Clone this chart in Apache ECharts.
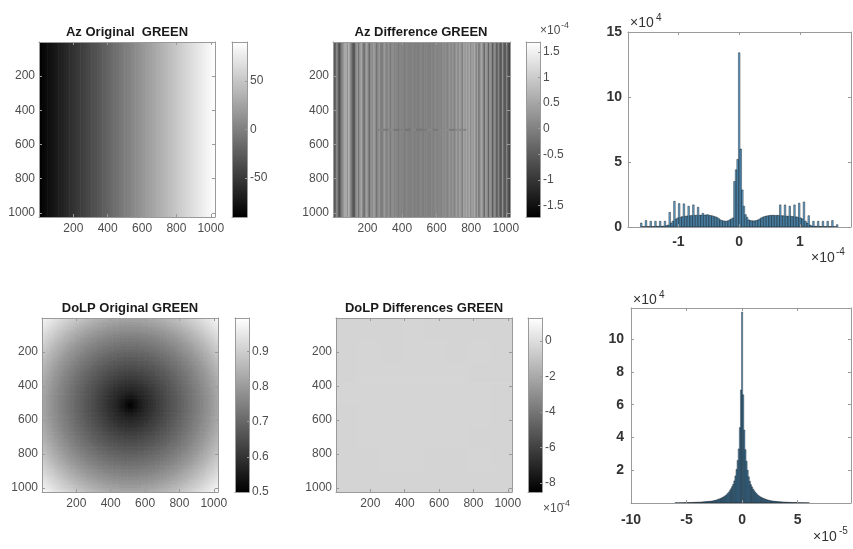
<!DOCTYPE html>
<html>
<head>
<meta charset="utf-8">
<script src="https://cdn.jsdelivr.net/npm/echarts@6/dist/echarts.min.js"></script>
<style>
  html, body { margin: 0; padding: 0; background: #fff; }
  #chart { width: 853px; height: 549px; }
</style>
</head>
<body>
<div id="chart"></div>
<script>
// ---- data ----
const imgRange = [0.5, 1024.5];
const imgTicks = [200, 400, 600, 800, 1000];

// Az Original: 64 column bands of 16 px, degrees
const azOrigColumns = [
  -88.6, -85.8, -83.0, -80.2, -77.3, -74.5, -71.7, -68.9,
  -66.1, -63.3, -60.5, -57.7, -54.8, -52.0, -49.2, -46.4,
  -43.6, -40.8, -38.0, -35.2, -32.3, -29.5, -26.7, -23.9,
  -21.1, -18.3, -15.5, -12.7, -9.8, -7.0, -4.2, -1.4,
  1.4, 4.2, 7.0, 9.8, 12.7, 15.5, 18.3, 21.1,
  23.9, 26.7, 29.5, 32.3, 35.2, 38.0, 40.8, 43.6,
  46.4, 49.2, 52.0, 54.8, 57.7, 60.5, 63.3, 66.1,
  68.9, 71.7, 74.5, 77.3, 80.2, 83.0, 85.8, 88.6
];
const azLimits = [-90, 90];
const azCbarTicks = [-50, 0, 50];

// Az Difference: 128 column bands of 8 px (x1e-4)
const azDiffColumns = [
  -0.6, -0.5, 0.1, -0.2, -0.7, -0.3, 0.0, 0.3,
  0.5, 0.6, 0.2, 0.7, 0.1, -0.1, -0.6, -0.5,
  0.0, 0.4, -0.2, 0.3, 0.5, 0.1, -0.3, 0.2,
  0.4, 0.0, -0.3, 0.3, 0.1, 0.4, 0.2, -0.2,
  0.1, 0.3, 0.0, -0.1, 0.2, 0.3, 0.0, 0.1,
  0.2, -0.1, 0.1, 0.2, 0.0, 0.1, 0.05, -0.05,
  0.1, 0.0, 0.05, -0.05, 0.0, 0.05, 0.0, -0.05,
  0.0, 0.05, -0.05, 0.0, 0.0, -0.05, 0.0, 0.05,
  0.0, -0.05, 0.0, 0.05, 0.0, 0.0, -0.05, 0.05,
  0.0, 0.05, 0.1, 0.0, 0.05, 0.1, 0.0, 0.15,
  0.1, 0.2, 0.0, 0.15, 0.25, 0.1, 0.3, 0.0,
  0.2, 0.35, 0.1, 0.4, 0.25, 0.0, 0.45, 0.3,
  0.5, 0.2, 0.6, 0.1, 0.45, 0.3, 0.55, 0.0,
  0.4, -0.2, 0.3, 0.5, 0.1, -0.3, 0.35, 0.2,
  -0.4, 0.3, 0.1, -0.5, 0.2, 0.0, -0.6, 0.1,
  -0.3, -0.7, 0.2, -0.4, -0.6, 0.0, -0.5, -0.8
];
// faint dotted row near y = 512, columns 256..768 in 32 px pieces (x1e-4)
const azDiffRowPieces = [0.05, -0.1, 0.1, -0.15, 0.0, -0.2, 0.05, -0.15, -0.1, 0.1, -0.1, 0.1, 0.15, -0.1, 0.1, 0.05];
const azDiffLimits = [-1.72, 1.69];
const azDiffCbarTicks = [-1.5, -1, -0.5, 0, 0.5, 1, 1.5];

// DoLP Original: value against distance from the centre, every 16 px
const dolpProfile = [
  0.500, 0.518, 0.532, 0.545, 0.558, 0.570, 0.580, 0.589,
  0.598, 0.607, 0.616, 0.625, 0.634, 0.643, 0.652, 0.661,
  0.669, 0.677, 0.686, 0.695, 0.704, 0.713, 0.722, 0.731,
  0.740, 0.749, 0.759, 0.769, 0.779, 0.789, 0.800, 0.812,
  0.824, 0.836, 0.848, 0.860, 0.872, 0.884, 0.896, 0.908,
  0.920, 0.932, 0.944, 0.956, 0.968, 0.982, 0.992, 0.995,
  0.995
];
const dolpLimits = [0.5, 0.995];
const dolpCbarTicks = [0.5, 0.6, 0.7, 0.8, 0.9];

// DoLP Differences: 8x8 blocks of 128 px (x1e-4)
const dolpDiffBlocks = [
  [-0.36, -0.34, -0.35, -0.33, -0.34, -0.35, -0.34, -0.36],
  [-0.34, -0.33, -0.34, -0.32, -0.33, -0.34, -0.33, -0.35],
  [-0.35, -0.33, -0.32, -0.31, -0.32, -0.33, -0.34, -0.34],
  [-0.33, -0.32, -0.31, -0.30, -0.31, -0.32, -0.33, -0.34],
  [-0.34, -0.32, -0.31, -0.31, -0.30, -0.32, -0.33, -0.35],
  [-0.35, -0.33, -0.32, -0.32, -0.32, -0.33, -0.34, -0.34],
  [-0.34, -0.34, -0.33, -0.33, -0.34, -0.34, -0.33, -0.35],
  [-0.36, -0.35, -0.34, -0.34, -0.35, -0.35, -0.35, -0.36]
];
const dolpDiffLimits = [-8.5, 1.3];
const dolpDiffCbarTicks = [-8, -6, -4, -2, 0];

// histogram of Az difference: x in 1e-4, counts in 1e4
const azHistEdge0 = -1.625;
const azHistBinWidth = 0.026;
const azHistCounts = [
  0.31, 0.03, 0.03, 0.50, 0.04, 0.04, 0.44, 0.04, 0.04, 0.44,
  0.05, 0.05, 0.44, 0.06, 0.06, 0.44, 0.10, 0.15, 1.13, 0.30,
  0.45, 1.98, 0.60, 0.70, 1.80, 0.75, 0.80, 1.78, 0.82, 0.85,
  1.60, 0.87, 0.88, 1.70, 0.90, 0.90, 1.52, 0.90, 0.92, 1.05,
  0.92, 0.93, 0.95, 0.90, 0.88, 0.86, 0.82, 0.78, 0.74, 0.65,
  0.56, 0.50, 0.47, 0.45, 0.45, 0.48, 0.55, 0.62, 0.70, 3.50,
  4.40, 5.20, 13.40, 6.00, 2.85, 1.60, 0.95, 0.75, 0.55, 0.50,
  0.48, 0.47, 0.48, 0.50, 0.55, 0.62, 0.70, 0.76, 0.80, 0.84,
  0.86, 0.88, 0.90, 0.90, 0.90, 0.88, 0.90, 0.88, 1.70, 0.87,
  0.86, 1.70, 0.84, 0.83, 1.60, 0.82, 0.80, 1.70, 0.78, 0.75,
  1.83, 0.70, 0.62, 1.93, 0.45, 0.30, 0.87, 0.15, 0.08, 0.44,
  0.06, 0.05, 0.44, 0.05, 0.04, 0.44, 0.04, 0.04, 0.44, 0.03,
  0.03, 0.50, 0.03, 0.02, 0.18
];
const azHistRange = [-1.83, 1.84];
const azHistXTicks = [-1, 0, 1];
const azHistYTicks = [0, 5, 10, 15];

// histogram of DoLP difference: x in 1e-5, counts in 1e4
const dolpHistEdge0 = -6.05;
const dolpHistBinWidth = 0.1;
const dolpHistCounts = [
  0.010, 0.011, 0.012, 0.013, 0.015, 0.016, 0.018, 0.020, 0.021, 0.023,
  0.025, 0.026, 0.028, 0.030, 0.032, 0.035, 0.037, 0.040, 0.043, 0.047,
  0.050, 0.052, 0.055, 0.060, 0.063, 0.070, 0.075, 0.080, 0.085, 0.093,
  0.100, 0.105, 0.110, 0.120, 0.130, 0.150, 0.165, 0.180, 0.210, 0.235,
  0.26, 0.29, 0.32, 0.36, 0.40, 0.45, 0.50, 0.58, 0.66, 0.76,
  0.87, 1.00, 1.15, 1.35, 1.65, 2.05, 2.60, 3.30, 4.60, 6.90,
  11.65,
  6.60, 4.45, 3.25, 2.55, 2.00, 1.60, 1.32, 1.12, 0.98, 0.85,
  0.74, 0.65, 0.57, 0.50, 0.44, 0.39, 0.35, 0.32, 0.29, 0.26,
  0.230, 0.210, 0.185, 0.170, 0.150, 0.135, 0.125, 0.115, 0.105, 0.100,
  0.092, 0.085, 0.080, 0.075, 0.070, 0.064, 0.060, 0.056, 0.053, 0.050,
  0.046, 0.043, 0.040, 0.037, 0.035, 0.032, 0.030, 0.028, 0.026, 0.024,
  0.022, 0.020, 0.019, 0.017, 0.016, 0.014, 0.013, 0.012, 0.011, 0.010
];
const dolpHistRange = [-10, 9.8];
const dolpHistXTicks = [-10, -5, 0, 5];
const dolpHistYTicks = [2, 4, 6, 8, 10];

// ---- look ----
const FONT = '"Liberation Sans", Arial, Helvetica, sans-serif';
const FRAME = '#9a9a9a';
const imgLabel = {color: '#4d4d4d', fontSize: 12, fontFamily: FONT};
const histLabel = {color: '#333', fontSize: 14, fontWeight: 'bold', fontFamily: FONT};

const grids = [
  {left: 39, top: 42, width: 176, height: 175},   // Az original
  {left: 232, top: 42, width: 15, height: 175},   // its colorbar
  {left: 333, top: 42, width: 177, height: 175},  // Az difference
  {left: 526, top: 42, width: 14, height: 175},   // its colorbar
  {left: 628, top: 32, width: 223, height: 195},  // Az histogram
  {left: 42, top: 318, width: 176, height: 174},  // DoLP original
  {left: 235, top: 318, width: 14, height: 174},  // its colorbar
  {left: 336, top: 318, width: 176, height: 174}, // DoLP differences
  {left: 528, top: 318, width: 14, height: 174},  // its colorbar
  {left: 631, top: 308, width: 220, height: 195}  // DoLP histogram
].map(g => Object.assign({outerBoundsMode: 'none'}, g));

const xAxis = [];
const yAxis = [];

// each grid gets a boxed frame: bottom/top x axes, left/right y axes
function frame(g, x, y) {
  const make = (pos, a, withLabel, withTick) => ({
    gridIndex: g, type: 'value', position: pos, min: a.min, max: a.max,
    inverse: !!a.inverse, z: 10,
    splitLine: {show: false},
    axisLine: {show: true, onZero: false, lineStyle: {color: FRAME, width: 1}},
    axisTick: {show: withTick && a.ticks.length > 0, inside: true, length: a.tickLen || 3,
      customValues: a.ticks, lineStyle: {color: FRAME}},
    axisLabel: withLabel ? Object.assign({show: true, customValues: a.labels || a.ticks,
      margin: a.margin, formatter: v => String(v)}, a.style) : {show: false}
  });
  xAxis.push(make('bottom', x, x.label !== false, true));
  xAxis.push(make('top', x, false, true));
  yAxis.push(make('left', y, y.side !== 'right', y.side !== 'right'));
  yAxis.push(make('right', y, y.side === 'right', true));
}

const imgX = {min: imgRange[0], max: imgRange[1], ticks: imgTicks, margin: 6, style: imgLabel};
const imgY = {min: imgRange[0], max: imgRange[1], ticks: imgTicks, inverse: true, margin: 4, style: imgLabel};
const cbarX = {min: 0, max: 1, ticks: [], label: false};
const cbarY = (lim, ticks) => ({min: lim[0], max: lim[1], ticks, side: 'right', margin: 3, tickLen: 2, style: imgLabel});

frame(0, imgX, imgY);
frame(1, cbarX, cbarY(azLimits, azCbarTicks));
frame(2, imgX, imgY);
frame(3, cbarX, cbarY(azDiffLimits, azDiffCbarTicks));
frame(4, {min: azHistRange[0], max: azHistRange[1], ticks: azHistXTicks, margin: 8, style: histLabel},
         {min: 0, max: 15, ticks: azHistYTicks, margin: 6, style: histLabel});
frame(5, imgX, imgY);
frame(6, cbarX, cbarY(dolpLimits, dolpCbarTicks));
frame(7, imgX, imgY);
frame(8, cbarX, cbarY(dolpDiffLimits, dolpDiffCbarTicks));
frame(9, {min: dolpHistRange[0], max: dolpHistRange[1], ticks: dolpHistXTicks, margin: 10, style: histLabel},
         {min: 0, max: 11.9, ticks: [0].concat(dolpHistYTicks), labels: dolpHistYTicks, margin: 7, style: histLabel});

// ---- cells for the images ----
function columnCells(cols, step) {
  return cols.map((v, i) => [0.5 + i * step, 0.5 + (i + 1) * step, imgRange[0], imgRange[1], v]);
}
const azOrigCells = columnCells(azOrigColumns, 16);
const azDiffCells = columnCells(azDiffColumns, 8).concat(
  azDiffRowPieces.map((v, i) => [256.5 + i * 32, 256.5 + (i + 1) * 32, 508.5, 516.5, v]));

// DoLP image: 8 px cells, each takes the profile value of its ring
const dolpCells = [];
for (let r = 0; r < 128; r++) {
  for (let c = 0; c < 128; c++) {
    const dx = (c + 0.5) * 8 - 512, dy = (r + 0.5) * 8 - 512;
    const ring = Math.min(dolpProfile.length - 1, Math.round(Math.hypot(dx, dy) / 16));
    dolpCells.push([0.5 + c * 8, 0.5 + (c + 1) * 8, 0.5 + r * 8, 0.5 + (r + 1) * 8, dolpProfile[ring]]);
  }
}
const dolpDiffCells = [];
dolpDiffBlocks.forEach((row, r) => row.forEach((v, c) => {
  dolpDiffCells.push([0.5 + c * 128, 0.5 + (c + 1) * 128, 0.5 + r * 128, 0.5 + (r + 1) * 128, v]);
}));

function imageSeries(g, cells, lim) {
  return {
    type: 'custom', xAxisIndex: 2 * g, yAxisIndex: 2 * g, data: cells,
    clip: true, silent: true, progressive: 0,
    encode: {x: [0, 1], y: [2, 3]},
    renderItem(params, api) {
      const p0 = api.coord([api.value(0), api.value(2)]);
      const p1 = api.coord([api.value(1), api.value(3)]);
      let t = (api.value(4) - lim[0]) / (lim[1] - lim[0]);
      t = Math.max(0, Math.min(1, t));
      const k = Math.round(255 * t);
      return {
        type: 'rect',
        shape: {x: Math.min(p0[0], p1[0]), y: Math.min(p0[1], p1[1]),
                width: Math.abs(p1[0] - p0[0]) + 0.6, height: Math.abs(p1[1] - p0[1]) + 0.6},
        style: {fill: 'rgb(' + k + ',' + k + ',' + k + ')'}
      };
    }
  };
}

function colorbarSeries(g, lim) {
  return {
    type: 'custom', xAxisIndex: 2 * g, yAxisIndex: 2 * g, data: [[0, 1, lim[0], lim[1]]],
    clip: true, silent: true,
    encode: {x: [0, 1], y: [2, 3]},
    renderItem(params, api) {
      const lo = api.coord([api.value(0), api.value(2)]);
      const hi = api.coord([api.value(1), api.value(3)]);
      return {
        type: 'rect',
        shape: {x: lo[0], y: hi[1], width: hi[0] - lo[0], height: lo[1] - hi[1]},
        style: {fill: {type: 'linear', x: 0, y: 0, x2: 0, y2: 1,
          colorStops: [{offset: 0, color: '#fff'}, {offset: 1, color: '#000'}]}}
      };
    }
  };
}

function histSeries(g, edge0, w, counts) {
  return {
    type: 'custom', xAxisIndex: 2 * g, yAxisIndex: 2 * g,
    data: counts.map((c, i) => [edge0 + i * w, edge0 + (i + 1) * w, c]),
    clip: true, silent: true, progressive: 0,
    encode: {x: [0, 1], y: 2},
    renderItem(params, api) {
      const a = api.coord([api.value(0), api.value(2)]);
      const b = api.coord([api.value(1), 0]);
      return {
        type: 'rect',
        shape: {x: a[0], y: a[1], width: b[0] - a[0], height: b[1] - a[1]},
        style: {fill: 'rgba(0,114,189,0.6)', stroke: 'rgba(0,0,0,0.8)', lineWidth: 0.5}
      };
    }
  };
}

// ---- texts ----
function label(text, x, y, size, opts) {
  opts = opts || {};
  const align = opts.align || 'left';
  return {
    type: 'text', x, y, z: 20, silent: true,
    style: {
      text, fill: opts.color || '#4d4d4d',
      font: (opts.bold ? 'bold ' : '') + size + 'px ' + FONT,
      align, verticalAlign: 'middle', textAlign: align, textVerticalAlign: 'middle'
    }
  };
}
const titleOpts = {bold: true, color: '#1a1a1a', align: 'center'};
const graphic = [
  label('Az Original  GREEN', 127, 32, 13, titleOpts),
  label('Az Difference GREEN', 421, 32, 13, titleOpts),
  label('DoLP Original GREEN', 130, 308, 13, titleOpts),
  label('DoLP Differences GREEN', 424, 308, 13, titleOpts),
  label('\u00d710', 540, 31, 12), label('-4', 561, 26, 9),
  label('\u00d710', 543, 509, 12), label('-4', 562, 504, 9),
  label('\u00d710', 630, 23, 14, {color: '#333'}), label('4', 656, 18, 10, {color: '#333'}),
  label('\u00d710', 811, 258, 14, {color: '#333'}), label('-4', 836, 252, 10, {color: '#333'}),
  label('\u00d710', 633, 300, 14, {color: '#333'}), label('4', 659, 295, 10, {color: '#333'}),
  label('\u00d710', 813, 537, 14, {color: '#333'}), label('-5', 839, 531, 10, {color: '#333'})
];

const chart = echarts.init(document.getElementById('chart'));
chart.setOption({
  backgroundColor: '#fff',
  animation: false,
  textStyle: {fontFamily: FONT},
  grid: grids,
  xAxis,
  yAxis,
  graphic,
  series: [
    imageSeries(0, azOrigCells, azLimits),
    colorbarSeries(1, azLimits),
    imageSeries(2, azDiffCells, azDiffLimits),
    colorbarSeries(3, azDiffLimits),
    histSeries(4, azHistEdge0, azHistBinWidth, azHistCounts),
    imageSeries(5, dolpCells, dolpLimits),
    colorbarSeries(6, dolpLimits),
    imageSeries(7, dolpDiffCells, dolpDiffLimits),
    colorbarSeries(8, dolpDiffLimits),
    histSeries(9, dolpHistEdge0, dolpHistBinWidth, dolpHistCounts)
  ]
});
</script>
</body>
</html>
